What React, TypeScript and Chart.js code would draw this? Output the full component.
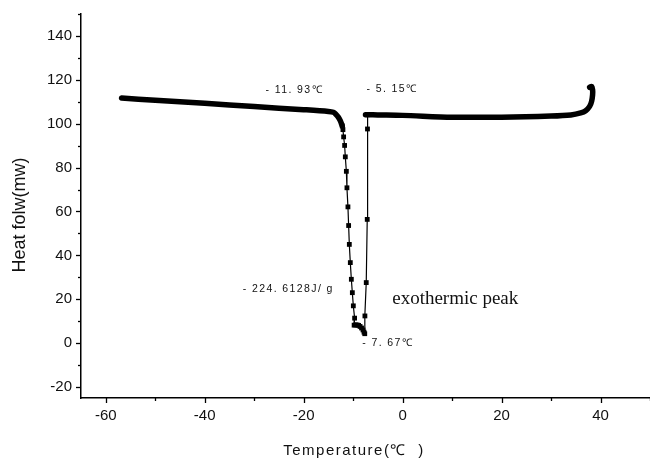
import { useEffect, useRef } from "react";
import { Chart, registerables } from "chart.js";
Chart.register(...registerables);

// Baseline before the exothermic peak (thick trace)
const preTemp = [-56.8, -50, -40, -30, -20, -15, -14, -13.5, -13, -12.6, -12.2];
const preHeat = [111.7, 110.7, 109.3, 107.8, 106.4, 105.6, 105.2, 104.3, 103.0, 101.4, 99.0];

// Peak region (sparse square markers)
const peakTemp = [-12.2, -12.06, -11.92, -11.72, -11.58, -11.37, -11.25, -11.05, -10.91, -10.77, -10.57, -10.36, -10.16, -9.96, -9.7,
  -9.8, -9.5, -9.2, -8.9, -8.6, -8.3, -8.0, -7.8, -7.65,
  -7.62, -7.35, -7.15, -7.1, -7.05];
const peakHeat = [99.0, 97.3, 94.0, 90.1, 84.9, 78.3, 70.8, 62.1, 53.6, 45.0, 36.7, 29.1, 23.0, 17.0, 11.4,
  8.2, 8.3, 8.3, 8.1, 7.6, 6.9, 6.0, 5.0, 4.3,
  12.4, 27.6, 56.4, 97.6, 104.1];

// Baseline after the peak (thick trace)
const postTemp = [-7.5, -7.05, -5, 0, 10, 20, 30, 34, 36, 37, 37.8, 38.2, 38.4, 38.4, 38.2, 37.8];
const postHeat = [104.1, 104.1, 104.0, 103.8, 103.0, 103.0, 103.5, 104.0, 104.9, 105.9, 107.9, 110.2, 113.2, 115.5, 117.0, 116.6];

// Annotations: [text, temperature, heat flow]
const noteTexts = ["- 11. 93℃", "- 5. 15℃", "- 224. 6128J/ g", "- 7. 67℃"];
const noteTemp = [-27.7, -7.3, -32.3, -8.15];
const noteHeat = [115.5, 115.8, 24.5, -0.1];
const peakLabel = "exothermic peak";
const peakLabelTemp = -2.1;
const peakLabelHeat = 20;

const xTitle = "Temperature(℃  )";
const yTitle = "Heat folw(mw)";

const toPts = (xs: number[], ys: number[]) => xs.map((x, i) => ({ x, y: ys[i] }));

const overlay = {
  id: "overlay",
  afterDraw(chart: any) {
    const ctx = chart.ctx;
    const xs = chart.scales.x;
    const ys = chart.scales.y;
    ctx.save();
    ctx.strokeStyle = "#000";
    ctx.lineWidth = 1.3;
    xs.ticks.forEach((t: any) => {
      const px = Math.round(xs.getPixelForValue(t.value)) + 0.5;
      const major = Math.round(t.value) % 20 === 0;
      ctx.beginPath();
      ctx.moveTo(px, xs.top);
      ctx.lineTo(px, xs.top + (major ? 5 : 3));
      ctx.stroke();
    });
    ys.ticks.forEach((t: any) => {
      const py = Math.round(ys.getPixelForValue(t.value)) + 0.5;
      const major = Math.round(t.value) % 20 === 0;
      ctx.beginPath();
      ctx.moveTo(ys.right, py);
      ctx.lineTo(ys.right - (major ? 5 : 3), py);
      ctx.stroke();
    });

    // annotations
    ctx.fillStyle = "#111";
    ctx.textAlign = "left";
    ctx.textBaseline = "middle";
    ctx.font = "10.5px 'Liberation Sans', Arial, sans-serif";
    (ctx as any).letterSpacing = "1.4px";
    noteTexts.forEach((s, i) => {
      ctx.fillText(s, xs.getPixelForValue(noteTemp[i]), ys.getPixelForValue(noteHeat[i]));
    });
    (ctx as any).letterSpacing = "0px";
    ctx.font = "19px 'Liberation Serif', 'Times New Roman', serif";
    ctx.fillText(peakLabel, xs.getPixelForValue(peakLabelTemp), ys.getPixelForValue(peakLabelHeat));

    // axis titles
    ctx.font = "15px 'Liberation Sans', Arial, sans-serif";
    (ctx as any).letterSpacing = "1.5px";
    ctx.textAlign = "center";
    ctx.fillText(xTitle, 354, 451);
    (ctx as any).letterSpacing = "0px";
    ctx.translate(20, 215);
    ctx.rotate(-Math.PI / 2);
    ctx.font = "18px 'Liberation Sans', Arial, sans-serif";
    ctx.fillText(yTitle, 0, 0);
    ctx.restore();
  },
};

export default function App() {
  const ref = useRef<HTMLCanvasElement | null>(null);
  useEffect(() => {
    if (!ref.current) return;
    const chart = new Chart(ref.current, {
      type: "scatter",
      data: {
        datasets: [
          {
            data: toPts(preTemp, preHeat),
            showLine: true,
            borderColor: "#000",
            borderWidth: 5.5,
            borderCapStyle: "round",
            borderJoinStyle: "round",
            pointRadius: 0,
            tension: 0.3,
          },
          {
            data: toPts(peakTemp, peakHeat),
            showLine: true,
            borderColor: "#000",
            borderWidth: 1.2,
            pointStyle: "rect",
            pointRadius: 3.4,
            pointBackgroundColor: "#000",
            pointBorderWidth: 0,
            tension: 0,
          },
          {
            data: toPts(postTemp, postHeat),
            showLine: true,
            borderColor: "#000",
            borderWidth: 5.5,
            borderCapStyle: "round",
            borderJoinStyle: "round",
            pointRadius: 0,
            tension: 0.3,
          },
        ],
      } as any,
      options: {
        animation: false,
        responsive: false,
        devicePixelRatio: 1,
        layout: { autoPadding: false, padding: { top: 14, right: 0, left: 0, bottom: 0 } },
        plugins: { legend: { display: false }, tooltip: { enabled: false } },
        scales: {
          x: {
            type: "linear",
            min: -65,
            max: 50,
            afterFit: (s: any) => { s.height = 63; s.paddingRight = 0; s.paddingLeft = 0; },
            ticks: {
              stepSize: 10,
              includeBounds: false,
              autoSkip: false,
              maxRotation: 0,
              padding: 9,
              color: "#111",
              font: { family: "'Liberation Sans', Arial, sans-serif", size: 15 },
              callback: (v: any) => (Math.round(v) % 20 === 0 && v < 50 ? String(v) : ""),
            },
            grid: { drawOnChartArea: false, drawTicks: false },
            border: { display: true, color: "#000", width: 1.5 },
          },
          y: {
            type: "linear",
            min: -25,
            max: 150,
            afterFit: (s: any) => { s.width = 81; s.paddingTop = 0; s.paddingBottom = 0; },
            ticks: {
              stepSize: 10,
              includeBounds: false,
              autoSkip: false,
              padding: 9,
              color: "#111",
              font: { family: "'Liberation Sans', Arial, sans-serif", size: 15 },
              callback: (v: any) => (Math.round(v) % 20 === 0 && v < 150 ? String(v) : ""),
            },
            grid: { drawOnChartArea: false, drawTicks: false },
            border: { display: true, color: "#000", width: 1.5 },
          },
        },
      } as any,
      plugins: [overlay],
    });
    return () => chart.destroy();
  }, []);
  return (
    <div style={{ position: "absolute", left: 0, top: 0, width: 650, height: 461, background: "#fff" }}>
      <canvas ref={ref} width={650} height={461} style={{ display: "block" }} />
    </div>
  );
}
